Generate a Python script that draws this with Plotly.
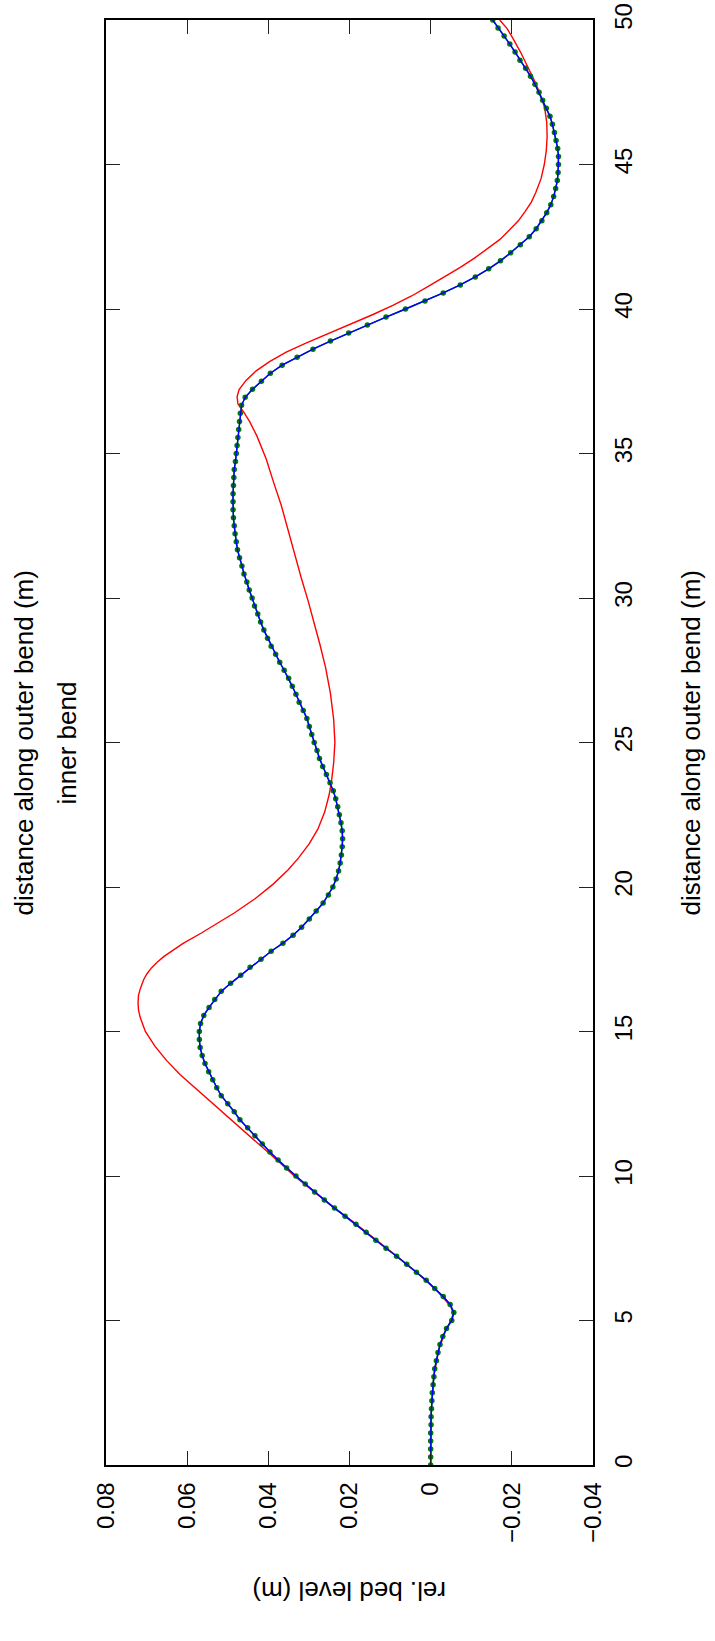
import plotly.graph_objects as go

# Stations along the outer bend (m): 181 computational points, 0 to 50 m
n_stations = 181
station_dist = [round(k * 50.0 / (n_stations - 1), 4) for k in range(n_stations)]

# Relative bed level (m) at each station, first model
bed_model_a = [
    0.0000, 0.0000, 0.0000, 0.0000, 0.0000, -0.0001, -0.0001, -0.0002, -0.0003, -0.0004,
    -0.0006, -0.0008, -0.0010, -0.0014, -0.0018, -0.0023, -0.0030, -0.0039, -0.0052, -0.0057,
    -0.0048, -0.0031, -0.0010, 0.0011, 0.0035, 0.0059, 0.0084, 0.0110, 0.0135, 0.0159,
    0.0184, 0.0211, 0.0237, 0.0262, 0.0286, 0.0309, 0.0332, 0.0355, 0.0376, 0.0396,
    0.0415, 0.0433, 0.0451, 0.0470, 0.0484, 0.0500, 0.0516, 0.0527, 0.0537, 0.0547,
    0.0556, 0.0563, 0.0568, 0.0570, 0.0570, 0.0567, 0.0559, 0.0546, 0.0532, 0.0516,
    0.0493, 0.0468, 0.0445, 0.0418, 0.0393, 0.0364, 0.0339, 0.0318, 0.0299, 0.0282,
    0.0265, 0.0252, 0.0241, 0.0233, 0.0227, 0.0223, 0.0220, 0.0218, 0.0217, 0.0218,
    0.0221, 0.0225, 0.0229, 0.0234, 0.0240, 0.0248, 0.0257, 0.0266, 0.0274, 0.0280,
    0.0287, 0.0293, 0.0299, 0.0305, 0.0314, 0.0324, 0.0332, 0.0341, 0.0350, 0.0361,
    0.0372, 0.0382, 0.0393, 0.0402, 0.0411, 0.0419, 0.0426, 0.0434, 0.0440, 0.0447,
    0.0453, 0.0460, 0.0465, 0.0471, 0.0476, 0.0479, 0.0482, 0.0484, 0.0486, 0.0487,
    0.0487, 0.0487, 0.0486, 0.0485, 0.0484, 0.0481, 0.0479, 0.0477, 0.0475, 0.0473,
    0.0471, 0.0469, 0.0466, 0.0457, 0.0439, 0.0417, 0.0395, 0.0366, 0.0329, 0.0290,
    0.0247, 0.0202, 0.0156, 0.0110, 0.0062, 0.0014, -0.0031, -0.0073, -0.0110, -0.0143,
    -0.0172, -0.0197, -0.0221, -0.0243, -0.0260, -0.0274, -0.0286, -0.0296, -0.0303, -0.0308,
    -0.0312, -0.0314, -0.0315, -0.0315, -0.0313, -0.0309, -0.0305, -0.0300, -0.0294, -0.0285,
    -0.0276, -0.0267, -0.0257, -0.0246, -0.0234, -0.0220, -0.0208, -0.0195, -0.0181, -0.0166,
    -0.0153,
]

# Second model on the same stations (coincides with the first)
bed_model_b = list(bed_model_a)

# Reference profile (m), coarser and irregular stations
ref_dist = [
    0.0, 1.0, 2.0, 3.0, 4.0, 4.7, 5.0, 5.25, 5.5, 6.0,
    6.5, 7.0, 7.5, 8.0, 8.5, 9.0, 9.5, 10.0, 10.5, 11.0,
    11.5, 12.0, 12.5, 13.0, 13.5, 14.0, 14.5, 15.0, 15.5, 15.75,
    16.0, 16.25, 16.5, 16.8, 17.0, 17.2, 17.4, 17.6, 17.8, 18.05,
    18.4, 18.8, 19.1, 19.6, 20.1, 20.6, 21.0, 21.5, 22.0, 22.6,
    23.2, 23.7, 24.3, 25.0, 25.8, 26.7, 27.2, 27.6, 28.4, 29.1,
    29.9, 30.7, 31.5, 32.3, 33.2, 34.0, 34.8, 35.6, 36.1, 36.4,
    36.72, 36.96, 37.21, 37.53, 37.86, 38.18, 38.51, 38.83, 39.16, 39.48,
    39.81, 40.13, 40.45, 40.78, 41.1, 41.43, 41.75, 42.08, 42.4, 42.73,
    43.05, 43.38, 43.7, 44.03, 44.51, 45.0, 45.49, 45.97, 46.46, 46.95,
    47.44, 47.92, 48.41, 48.9, 49.38, 49.71, 50.0,
]
ref_bed = [
    0.0000, 0.0000, -0.0002, -0.0007, -0.0020, -0.0038, -0.0050, -0.0056, -0.0049, -0.0017,
    0.0021, 0.0063, 0.0108, 0.0153, 0.0199, 0.0247, 0.0292, 0.0336, 0.0375, 0.0415,
    0.0455, 0.0495, 0.0536, 0.0576, 0.0617, 0.0651, 0.0680, 0.0703, 0.0716, 0.0720,
    0.0721, 0.0720, 0.0715, 0.0707, 0.0699, 0.0688, 0.0674, 0.0657, 0.0637, 0.0610,
    0.0566, 0.0518, 0.0484, 0.0432, 0.0388, 0.0351, 0.0326, 0.0299, 0.0278, 0.0261,
    0.0250, 0.0244, 0.0239, 0.0236, 0.0239, 0.0247, 0.0253, 0.0259, 0.0273, 0.0286,
    0.0302, 0.0319, 0.0335, 0.0351, 0.0368, 0.0387, 0.0405, 0.0428, 0.0446, 0.0459,
    0.0475, 0.0477, 0.0472, 0.0455, 0.0430, 0.0397, 0.0356, 0.0306, 0.0251, 0.0195,
    0.0142, 0.0092, 0.0047, 0.0006, -0.0034, -0.0072, -0.0107, -0.0140, -0.0170, -0.0194,
    -0.0216, -0.0233, -0.0248, -0.0259, -0.0272, -0.0280, -0.0285, -0.0287, -0.0286, -0.0281,
    -0.0270, -0.0255, -0.0239, -0.0221, -0.0202, -0.0188, -0.0170,
]

# Axis ticks
bed_ticks = [0.08, 0.06, 0.04, 0.02, 0.0, -0.02, -0.04]
bed_tick_text = ["0.08", "0.06", "0.04", "0.02", "0", "\u22120.02", "\u22120.04"]
dist_ticks = [0, 5, 10, 15, 20, 25, 30, 35, 40, 45, 50]
dist_tick_text = ["0", "5", "10", "15", "20", "25", "30", "35", "40", "45", "50"]

FONT = "Liberation Sans, Arial, Helvetica, sans-serif"

fig = go.Figure()

# Profile drawn sideways: bed level runs horizontally, distance vertically
fig.add_trace(go.Scatter(
    x=ref_bed, y=ref_dist, mode="lines",
    line=dict(color="#ff0000", width=1.4),
    hoverinfo="skip", showlegend=False,
))
fig.add_trace(go.Scatter(
    x=bed_model_b, y=station_dist, mode="lines+markers",
    line=dict(color="#008000", width=1.4),
    marker=dict(color="#007a00", size=5.5),
    hoverinfo="skip", showlegend=False,
))
fig.add_trace(go.Scatter(
    x=bed_model_a, y=station_dist, mode="lines",
    line=dict(color="#0000ff", width=1.4),
    hoverinfo="skip", showlegend=False,
))

axis_common = dict(
    showgrid=False, zeroline=False, automargin=False,
    showline=True, linecolor="black", linewidth=1.5,
    mirror="ticks", ticks="inside", ticklen=14, tickwidth=1.3, tickcolor="#222222",
    tickfont=dict(family=FONT, size=24, color="black"),
    tickangle=-90,
)

fig.update_layout(
    width=715, height=1641,
    margin=dict(l=106, r=122, t=20, b=176),
    paper_bgcolor="white", plot_bgcolor="white",
    xaxis=dict(
        range=[0.08, -0.04],
        tickmode="array", tickvals=bed_ticks, ticktext=bed_tick_text,
        ticklabelstandoff=6,
        **axis_common,
    ),
    yaxis=dict(
        range=[0, 50], side="right",
        tickmode="array", tickvals=dist_ticks, ticktext=dist_tick_text,
        ticklabelstandoff=8,
        **axis_common,
    ),
    annotations=[
        dict(text="distance along outer bend (m)", xref="paper", yref="paper",
             x=-0.1684, y=0.5, xanchor="center", yanchor="middle", textangle=-90,
             showarrow=False, font=dict(family=FONT, size=26, color="black")),
        dict(text="inner bend", xref="paper", yref="paper",
             x=-0.0801, y=0.5, xanchor="center", yanchor="middle", textangle=-90,
             showarrow=False, font=dict(family=FONT, size=26, color="black")),
        dict(text="distance along outer bend (m)", xref="paper", yref="paper",
             x=1.2012, y=0.5, xanchor="center", yanchor="middle", textangle=-90,
             showarrow=False, font=dict(family=FONT, size=26, color="black")),
        dict(text="rel. bed level (m)", xref="paper", yref="paper",
             x=0.5, y=-0.0872, xanchor="center", yanchor="middle", textangle=180,
             showarrow=False, font=dict(family=FONT, size=26, color="black")),
    ],
)

fig.write_html("out.html", config={"displayModeBar": False})
